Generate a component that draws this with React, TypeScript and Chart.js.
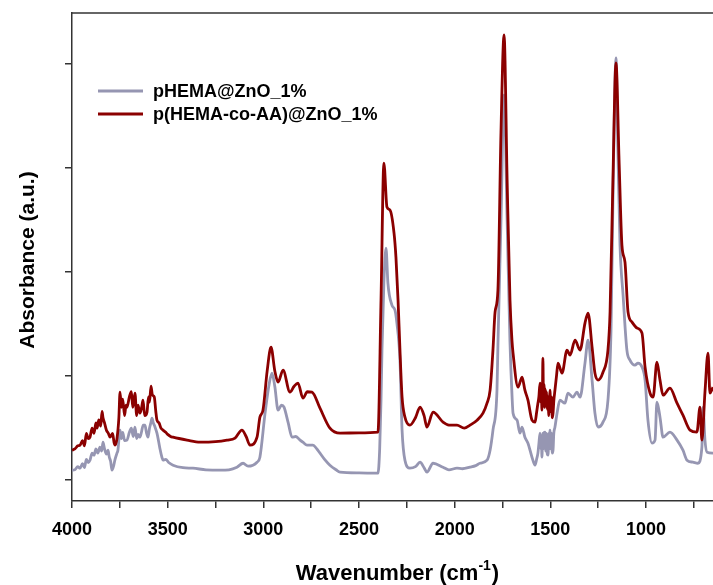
import React, { useEffect, useRef } from "react";
import { Chart, registerables } from "chart.js";

Chart.register(...registerables);

// ---- Data ----
const seriesNames = ["pHEMA@ZnO_1%", "p(HEMA-co-AA)@ZnO_1%"];
const seriesColors = ["rgb(150,150,178)", "rgb(139,0,0)"];

const grayWavenumber = [
  4000, 3985, 3970, 3958, 3945, 3935, 3925, 3915, 3906, 3895, 3885, 3875, 3865, 3854, 3845, 3838, 3830,
  3820, 3812, 3805, 3798, 3791, 3782, 3775, 3765, 3760, 3749, 3742, 3735, 3725, 3713, 3700, 3690, 3680,
  3671, 3662, 3655, 3645, 3636, 3628, 3619, 3610, 3603, 3595, 3588, 3582, 3575, 3568, 3556, 3548, 3540,
  3530, 3524, 3510, 3495, 3472, 3420, 3368, 3300, 3227, 3180, 3138, 3106, 3080, 3033, 3018, 2991, 2970,
  2955, 2940, 2923, 2905, 2892, 2870, 2850, 2830, 2808, 2790, 2772, 2741, 2720, 2704, 2680, 2652, 2620,
  2599, 2500, 2401, 2392, 2385, 2380, 2370, 2359, 2349, 2328, 2312, 2302, 2286, 2275, 2260, 2234, 2205,
  2181, 2160, 2145, 2113, 2061, 2030, 1988, 1960, 1920, 1890, 1868, 1831, 1815, 1800, 1779, 1774, 1758,
  1742, 1726, 1711, 1700, 1695, 1674, 1659, 1648, 1633, 1617, 1596, 1580, 1572, 1565, 1560, 1554, 1550,
  1547, 1544, 1540, 1536, 1532, 1528, 1524, 1520, 1516, 1512, 1508, 1505, 1502, 1498, 1494, 1490, 1486,
  1482, 1476, 1465, 1450, 1424, 1408, 1382, 1361, 1345, 1319, 1303, 1282, 1267, 1251, 1225, 1199, 1183,
  1173, 1157, 1147, 1136, 1120, 1100, 1084, 1058, 1042, 1021, 1005, 990, 969, 953, 943, 927, 911, 875,
  838, 807, 786, 755, 729, 708, 702, 692, 681, 650,
];
const grayAbsorbance = [
  0.096, 0.1, 0.13, 0.115, 0.16, 0.12, 0.2, 0.17, 0.192, 0.26, 0.24, 0.3, 0.26, 0.317, 0.28, 0.365, 0.3,
  0.25, 0.288, 0.22, 0.18, 0.096, 0.14, 0.2, 0.26, 0.288, 0.481, 0.4, 0.46, 0.38, 0.385, 0.46, 0.5, 0.42,
  0.51, 0.4, 0.44, 0.413, 0.47, 0.53, 0.529, 0.45, 0.413, 0.5, 0.55, 0.596, 0.55, 0.52, 0.452, 0.38, 0.3,
  0.22, 0.192, 0.2, 0.17, 0.144, 0.12, 0.115, 0.1, 0.096, 0.1, 0.125, 0.163, 0.135, 0.173, 0.221, 0.644,
  0.92, 1.029, 0.9, 0.673, 0.72, 0.702, 0.55, 0.413, 0.42, 0.385, 0.36, 0.337, 0.337, 0.3, 0.26, 0.2,
  0.144, 0.1, 0.077, 0.07, 0.067, 0.3, 0.769, 1.25, 1.9, 2.231, 1.894, 1.683, 1.635, 1.51, 1.154, 0.481,
  0.192, 0.115, 0.13, 0.173, 0.12, 0.077, 0.163, 0.125, 0.1, 0.115, 0.11, 0.125, 0.14, 0.163, 0.192,
  0.288, 0.481, 0.865, 1.298, 2.5, 3.702, 2.5, 1.327, 0.798, 0.644, 0.577, 0.452, 0.51, 0.413, 0.356,
  0.221, 0.144, 0.2, 0.26, 0.35, 0.452, 0.3, 0.42, 0.221, 0.45, 0.3, 0.46, 0.462, 0.28, 0.45, 0.25, 0.24,
  0.45, 0.3, 0.481, 0.3, 0.45, 0.26, 0.288, 0.45, 0.51, 0.644, 0.769, 0.74, 0.837, 0.798, 0.846, 0.798,
  1.125, 1.346, 0.962, 0.644, 0.51, 0.558, 0.769, 1.442, 2.692, 4.058, 3.173, 2.26, 1.779, 1.25, 1.154,
  1.106, 1.125, 1.087, 0.962, 0.577, 0.356, 0.385, 0.75, 0.606, 0.413, 0.462, 0.385, 0.288, 0.192, 0.173,
  0.163, 0.317, 0.702, 0.385, 0.269, 0.26,
];

const redWavenumber = [
  4000, 3985, 3970, 3958, 3945, 3935, 3925, 3915, 3906, 3895, 3885, 3875, 3869, 3860, 3850, 3843, 3838,
  3830, 3820, 3810, 3801, 3788, 3780, 3775, 3765, 3755, 3749, 3742, 3735, 3725, 3718, 3713, 3700, 3690,
  3682, 3671, 3662, 3655, 3645, 3636, 3629, 3620, 3608, 3600, 3595, 3587, 3580, 3570, 3562, 3556, 3545,
  3535, 3524, 3510, 3500, 3485, 3472, 3399, 3331, 3250, 3190, 3148, 3112, 3090, 3070, 3033, 3018, 3002,
  2980, 2960, 2940, 2923, 2897, 2861, 2840, 2819, 2793, 2770, 2746, 2704, 2652, 2599, 2500, 2401, 2385,
  2370, 2354, 2338, 2317, 2307, 2296, 2286, 2275, 2260, 2234, 2205, 2181, 2160, 2145, 2113, 2061, 2030,
  1988, 1950, 1920, 1883, 1852, 1831, 1815, 1800, 1789, 1774, 1758, 1742, 1726, 1711, 1700, 1695, 1669,
  1648, 1633, 1617, 1596, 1580, 1572, 1565, 1560, 1554, 1550, 1547, 1544, 1541, 1539, 1536, 1533, 1530,
  1527, 1523, 1520, 1516, 1512, 1508, 1505, 1502, 1498, 1494, 1490, 1486, 1482, 1476, 1468, 1460, 1439,
  1413, 1397, 1371, 1345, 1319, 1303, 1282, 1267, 1251, 1225, 1199, 1188, 1173, 1157, 1141, 1126, 1110,
  1094, 1073, 1047, 1021, 1005, 979, 963, 943, 927, 911, 875, 838, 807, 770, 734, 718, 708, 692, 676,
  666, 650,
];
const redAbsorbance = [
  0.288, 0.3, 0.33, 0.337, 0.38, 0.33, 0.45, 0.4, 0.413, 0.5, 0.45, 0.55, 0.5, 0.58, 0.52, 0.66, 0.6,
  0.55, 0.48, 0.45, 0.413, 0.45, 0.36, 0.337, 0.4, 0.6, 0.846, 0.7, 0.78, 0.62, 0.72, 0.7, 0.8, 0.85,
  0.7, 0.837, 0.62, 0.72, 0.644, 0.7, 0.769, 0.62, 0.654, 0.8, 0.75, 0.904, 0.82, 0.8, 0.66, 0.577, 0.55,
  0.5, 0.481, 0.46, 0.44, 0.42, 0.413, 0.385, 0.365, 0.37, 0.385, 0.404, 0.481, 0.42, 0.337, 0.413,
  0.606, 0.673, 1.05, 1.279, 1.05, 0.942, 1.058, 0.846, 0.9, 0.933, 0.788, 0.85, 0.846, 0.692, 0.5,
  0.452, 0.455, 0.462, 1.731, 3.048, 2.625, 2.596, 2.375, 2.144, 1.731, 1.25, 0.798, 0.606, 0.529, 0.6,
  0.702, 0.62, 0.51, 0.654, 0.558, 0.53, 0.529, 0.5, 0.529, 0.577, 0.644, 0.74, 0.865, 1.25, 1.615,
  1.827, 3.346, 4.279, 2.885, 1.731, 1.327, 1.221, 0.894, 0.99, 0.865, 0.769, 0.577, 0.558, 0.65, 0.74,
  0.8, 0.933, 0.75, 0.85, 0.673, 0.9, 1.173, 0.8, 0.92, 0.7, 0.88, 0.721, 0.85, 0.68, 0.8, 0.62, 0.75,
  0.865, 0.66, 0.8, 0.6, 0.644, 0.76, 0.865, 1.0, 1.125, 1.029, 1.25, 1.202, 1.346, 1.25, 1.51, 1.606,
  1.279, 1.029, 0.962, 1.038, 1.25, 1.615, 2.885, 4.01, 3.077, 2.26, 2.096, 1.615, 1.519, 1.462, 1.413,
  1.087, 0.837, 0.798, 1.135, 0.962, 0.817, 0.885, 0.74, 0.625, 0.481, 0.462, 0.702, 0.385, 0.846, 1.221,
  0.837, 0.894,
];

const xTickValues = [4000, 3750, 3500, 3250, 3000, 2750, 2500, 2250, 2000, 1750, 1500, 1250, 1000, 750];
const xLabelStep = 500;
const yTickValues = [0, 1, 2, 3, 4];
const xTitle = "Wavenumber (cm";
const xTitleSup = "-1";
const yTitle = "Absorbance (a.u.)";

const FONT = "'Liberation Sans', Arial, sans-serif";

function toPoints(xs: number[], ys: number[]) {
  return xs.map((x, i) => ({ x, y: ys[i] }));
}

const decorPlugin = {
  id: "decor",
  afterDraw(chart: any) {
    const { ctx, chartArea } = chart;
    ctx.save();
    // top frame line
    ctx.strokeStyle = "#333";
    ctx.lineWidth = 1.5;
    ctx.beginPath();
    ctx.moveTo(chartArea.left, chartArea.top);
    ctx.lineTo(chartArea.right, chartArea.top);
    ctx.stroke();

    // legend
    ctx.font = `bold 18px ${FONT}`;
    ctx.textBaseline = "middle";
    ctx.textAlign = "left";
    const legendY = [91, 114];
    seriesNames.forEach((name, i) => {
      ctx.strokeStyle = seriesColors[i];
      ctx.lineWidth = 2.8;
      ctx.beginPath();
      ctx.moveTo(98, legendY[i]);
      ctx.lineTo(143, legendY[i]);
      ctx.stroke();
      ctx.fillStyle = "#000";
      ctx.fillText(name, 153, legendY[i] + 1);
    });

    // x title with superscript
    ctx.fillStyle = "#000";
    ctx.textBaseline = "alphabetic";
    const mainFont = `bold 22px ${FONT}`;
    const supFont = `bold 14px ${FONT}`;
    ctx.font = mainFont;
    const w1 = ctx.measureText(xTitle).width;
    const wClose = ctx.measureText(")").width;
    ctx.font = supFont;
    const wSup = ctx.measureText(xTitleSup).width;
    const total = w1 + wSup + wClose + 1;
    const cx = (chartArea.left + chartArea.right) / 2 + 5;
    let x = cx - total / 2;
    const base = 580;
    ctx.font = mainFont;
    ctx.fillText(xTitle, x, base);
    x += w1;
    ctx.font = supFont;
    ctx.fillText(xTitleSup, x, base - 10);
    x += wSup + 1;
    ctx.font = mainFont;
    ctx.fillText(")", x, base);

    // y title
    ctx.save();
    ctx.translate(28, 260);
    ctx.rotate(-Math.PI / 2);
    ctx.font = `bold 21px ${FONT}`;
    ctx.textAlign = "center";
    ctx.textBaseline = "middle";
    ctx.fillText(yTitle, 0, 0);
    ctx.restore();

    ctx.restore();
  },
};

export default function App() {
  const canvasRef = useRef<HTMLCanvasElement | null>(null);

  useEffect(() => {
    if (!canvasRef.current) return;
    const chart = new Chart(canvasRef.current, {
      type: "line",
      data: {
        datasets: [
          {
            label: seriesNames[0],
            data: toPoints(grayWavenumber, grayAbsorbance),
            borderColor: seriesColors[0],
            borderWidth: 2.8,
            pointRadius: 0,
            cubicInterpolationMode: "monotone",
            order: 2,
          },
          {
            label: seriesNames[1],
            data: toPoints(redWavenumber, redAbsorbance),
            borderColor: seriesColors[1],
            borderWidth: 2.8,
            pointRadius: 0,
            cubicInterpolationMode: "monotone",
            order: 1,
          },
        ],
      },
      options: {
        animation: false,
        responsive: false,
        maintainAspectRatio: false,
        layout: { padding: { top: 13, right: 0, left: 0, bottom: 0 } },
        plugins: {
          legend: { display: false },
          tooltip: { enabled: false },
          title: { display: false },
        },
        scales: {
          x: {
            type: "linear",
            reverse: true,
            min: 650,
            max: 4000,
            afterBuildTicks: (axis: any) => {
              axis.ticks = xTickValues.map((v) => ({ value: v }));
            },
            afterFit: (scale: any) => {
              scale.height = 84;
            },
            border: { display: true, color: "#333", width: 1.5 },
            grid: {
              drawOnChartArea: false,
              drawTicks: true,
              tickLength: 7,
              color: "#333",
              lineWidth: 1.5,
            },
            ticks: {
              autoSkip: false,
              maxRotation: 0,
              padding: 11,
              color: "#000",
              font: { family: FONT, size: 18, weight: "bold" },
              callback: (v: any) => (Number(v) % xLabelStep === 0 ? String(v) : ""),
            },
          },
          y: {
            type: "linear",
            min: -0.2,
            max: 4.49,
            afterBuildTicks: (axis: any) => {
              axis.ticks = yTickValues.map((v) => ({ value: v }));
            },
            afterFit: (scale: any) => {
              scale.width = 72;
            },
            border: { display: true, color: "#333", width: 1.5 },
            grid: {
              drawOnChartArea: false,
              drawTicks: true,
              tickLength: 7,
              color: "#333",
              lineWidth: 1.5,
            },
            ticks: {
              color: "#000",
              font: { size: 1 },
              callback: () => "",
            },
          },
        },
      },
      plugins: [decorPlugin],
    });
    return () => chart.destroy();
  }, []);

  return (
    <div style={{ position: "fixed", left: 0, top: 0, width: 713, height: 585, background: "#fff" }}>
      <canvas ref={canvasRef} width={713} height={585} style={{ width: 713, height: 585 }} />
    </div>
  );
}
